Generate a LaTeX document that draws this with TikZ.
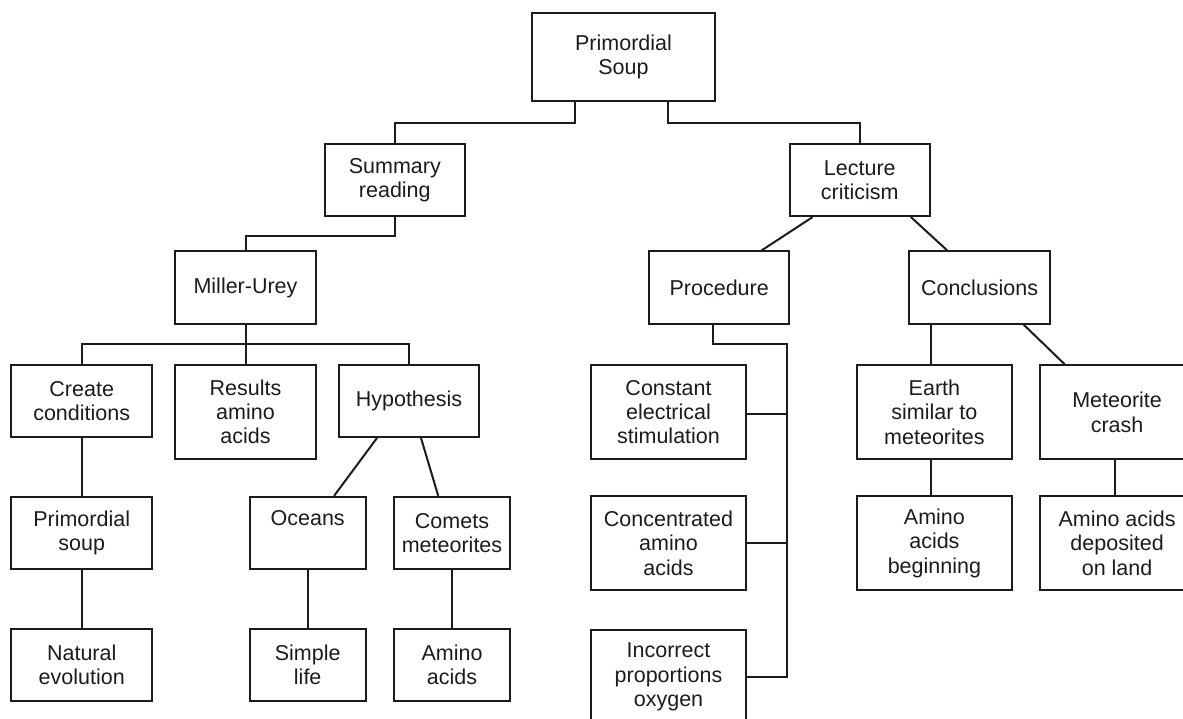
\documentclass[tikz,border=0pt]{standalone}
\usepackage{fontspec}
\setmainfont{Liberation Sans}
\usetikzlibrary{calc}
\definecolor{ink}{RGB}{30,27,28}
\begin{document}
\begin{tikzpicture}[x=1pt,y=-1pt,
  line width=2pt, draw=ink,
  box/.style={draw=ink, line width=2pt, rectangle, inner sep=0pt, align=center,
    text=ink, font=\fontsize{21.5}{24.3}\selectfont, minimum height=72pt},
  wA/.style={box, minimum width=140.5pt},
  wB/.style={box, minimum width=115.6pt},
  wC/.style={box, minimum width=155.2pt},
  tall/.style={minimum height=94pt},
  link/.style={draw=ink, line width=2pt}]
\useasboundingbox (0,0) rectangle (1183,719);
\clip (0,0) rectangle (1183,719);
\fill[white] (0,0) rectangle (1183,719);

% nodes
\node[box, minimum width=183pt, minimum height=88pt] (ps) at (623.5,56.7) {Primordial\\Soup};
\node[wA] (sum) at (394.8,180) {Summary\\reading};
\node[wA] (lec) at (859.8,180) {Lecture\\criticism};
\node[wA] (mu) at (245.5,287.5) {Miller-Urey};
\node[wA] (proc) at (719.2,287.5) {Procedure};
\node[wA] (conc) at (979.6,287.5) {Conclusions};
\node[wA] (create) at (81.7,401) {Create\\conditions};
\node[wA, tall] (results) at (245.5,412) {Results\\amino\\acids};
\node[wA] (hyp) at (409,401) {Hypothesis};
\node[wC, tall] (const) at (668.5,412.2) {Constant\\electrical\\stimulation};
\node[wC, tall] (earth) at (934.4,412.2) {Earth\\similar to\\meteorites};
\node[wC, tall] (met) at (1117.1,412.2) {Meteorite\\crash};
\node[wA] (psoup) at (81.7,532.8) {Primordial\\soup};
\node[wB] (oceans) at (307.7,532.8) {Oceans\\\phantom{soup}};
\node[wB] (comets) at (452,532.8) {Comets\\meteorites};
\node[wC, tall] (concen) at (668.5,543.2) {Concentrated\\amino\\acids};
\node[wC, tall] (amb) at (934.4,543.2) {Amino\\acids\\beginning};
\node[wC, tall] (dep) at (1117.1,543.2) {Amino acids\\deposited\\on land};
\node[wA] (nat) at (81.7,664.7) {Natural\\evolution};
\node[wB] (simple) at (307.7,664.7) {Simple\\life};
\node[wB] (amino) at (452,664.7) {Amino\\acids};
\node[wC, tall] (incorrect) at (668.5,677) {Incorrect\\proportions\\oxygen};

% connectors
\draw[link] ([xshift=-48.3pt]ps.south) -- ++(0,21) -| (sum.north);
\draw[link] ([xshift=44.2pt]ps.south) -- ++(0,21.4) -| (lec.north);
\draw[link] (sum.south) -- ++(0,19) -| (mu.north);
\draw[link] (mu.south) -- (results.north);
\draw[link] (create.north) |- ($(mu.south)!.5!(results.north)$) -| (hyp.north);
\draw[link] (create) -- (psoup);
\draw[link] (psoup) -- (nat);
\draw[link] ([xshift=-32pt]hyp.south) -- ([xshift=26.4pt]oceans.north);
\draw[link] ([xshift=12pt]hyp.south) -- ([xshift=-13.8pt]comets.north);
\draw[link] (oceans) -- (simple);
\draw[link] (comets) -- (amino);
\draw[link] ([xshift=-47.1pt]lec.south) -- ([xshift=42.3pt]proc.north);
\draw[link] ([xshift=51pt]lec.south) -- ([xshift=-32.3pt]conc.north);
\coordinate (bus) at (786.5,344.3);
\draw[link] ([xshift=-6.2pt]proc.south) |- (bus) |- (incorrect.east);
\draw[link] ([yshift=-2pt]const.east) -- ([yshift=-2pt]const.east -| bus);
\draw[link] (concen.east) -- (concen.east -| bus);
\draw[link] ([xshift=-3.6pt]earth.north |- conc.south) -- ([xshift=-3.6pt]earth.north);
\draw[link] ([xshift=-3.6pt]earth.south) -- ([xshift=-3.6pt]amb.north);
\draw[link] ([xshift=43.9pt]conc.south) -- ([xshift=-52.5pt]met.north);
\draw[link] ([xshift=-2.5pt]met.south) -- ([xshift=-2.5pt]dep.north);
\end{tikzpicture}
\end{document}
